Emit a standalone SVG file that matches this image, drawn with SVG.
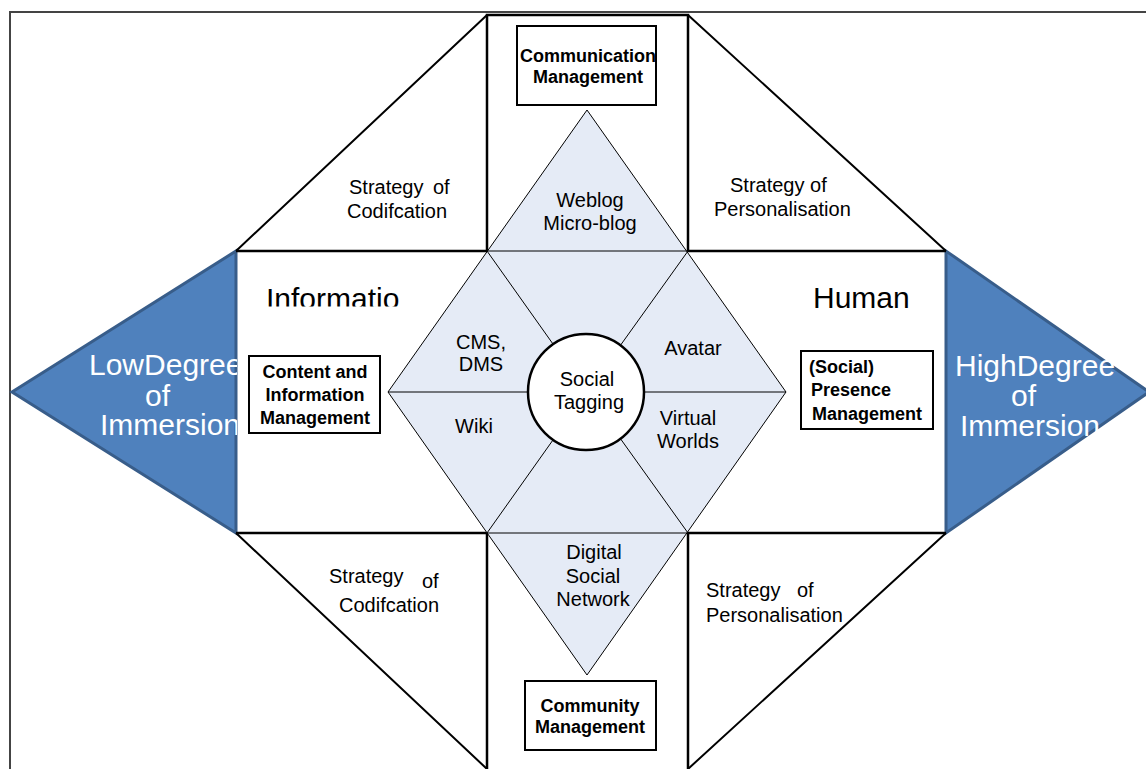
<svg xmlns="http://www.w3.org/2000/svg" width="1146" height="769" viewBox="0 0 1146 769">
<style>
.t{font-family:"Liberation Sans",Arial,sans-serif;font-size:20px;fill:#000}
.big{font-family:"Liberation Sans",Arial,sans-serif;font-size:30px;fill:#000}
.w{font-family:"Liberation Sans",Arial,sans-serif;font-size:30px;fill:#fff}
.b{font-family:"Liberation Sans",Arial,sans-serif;font-size:18px;font-weight:bold;fill:#000}
.c{text-anchor:middle}
.frame{stroke:#000;stroke-width:2.5;fill:none}
.diag{stroke:#000;stroke-width:2;fill:none}
.thin{stroke:#000;stroke-width:1;fill:none}
.box{fill:#fff;stroke:#000;stroke-width:2}
.arrow{fill:#4f81bd;stroke:#385d8a;stroke-width:3;stroke-linejoin:miter}
</style>
<defs>
<clipPath id="clipLow"><rect x="0" y="240" width="237" height="300"/></clipPath>
<clipPath id="clipInfo"><rect x="250" y="270" width="200" height="36.5"/></clipPath>
</defs>
<rect width="1146" height="769" fill="#fff"/>
<path d="M10,769 V12 H1146" fill="none" stroke="#444" stroke-width="2"/>

<g id="low-degree">
<polygon class="arrow" points="236,251 236,533 12,392"/>
<g clip-path="url(#clipLow)">
<text class="w" x="89" y="375">LowDegree</text>
<text class="w" x="145" y="406">of</text>
<text class="w" x="100" y="435">Immersion</text>
</g>
</g>

<g id="high-degree">
<polygon class="arrow" points="946,251 946,533 1149,392"/>
<text class="w" x="955" y="376">HighDegree</text>
<text class="w" x="1011" y="406">of</text>
<text class="w" x="960" y="436">Immersion</text>
</g>

<g id="connectors">
<path class="frame" d="M236,251 H487 M688,251 H946 M236,533 H487 M688,533 H946"/>
<path class="frame" d="M487,251 V15 H688 V251 M487,533 V769 M688,533 V769"/>
<path class="diag" d="M236,251 L487,15 M688,15 L946,251 M236,533 L487,769 M946,533 L688,769"/>
</g>

<g id="quadrants">
<text class="t" x="349" y="194">Strategy</text>
<text class="t" x="433" y="194">of</text>
<text class="t" x="347" y="218">Codifcation</text>
<text class="t" x="730" y="192">Strategy of</text>
<text class="t" x="714" y="216">Personalisation</text>
<text class="t" x="329" y="583">Strategy</text>
<text class="t" x="422" y="588">of</text>
<text class="t" x="339" y="612">Codifcation</text>
<text class="t" x="706" y="597">Strategy</text>
<text class="t" x="797" y="597">of</text>
<text class="t" x="706" y="622">Personalisation</text>
<g clip-path="url(#clipInfo)"><text class="big" x="266" y="309">Informatio</text></g>
<text class="big" x="813" y="308">Human</text>
</g>

<g id="diamond">
<polygon points="587,110 786,392 587,675 388,392" fill="#e5ebf6" stroke="#000" stroke-width="1"/>
<path class="thin" d="M487,251 H688 M487,533 H688 M487,251 L587,392 M688,251 L587,392 M388,392 H587 M786,392 H587 M487,533 L587,392 M688,533 L587,392"/>
<text class="t c" x="590" y="207">Weblog</text>
<text class="t c" x="590" y="230">Micro-blog</text>
<text class="t c" x="481" y="349">CMS,</text>
<text class="t c" x="481" y="371">DMS</text>
<text class="t c" x="693" y="355">Avatar</text>
<text class="t c" x="474" y="433">Wiki</text>
<text class="t c" x="688" y="425">Virtual</text>
<text class="t c" x="688" y="448">Worlds</text>
<text class="t c" x="594" y="559">Digital</text>
<text class="t c" x="593" y="583">Social</text>
<text class="t c" x="593" y="606">Network</text>
</g>

<g id="social-tagging">
<circle cx="586" cy="392" r="58" fill="#fff" stroke="#000" stroke-width="2.5"/>
<text class="t c" x="587" y="386">Social</text>
<text class="t c" x="589" y="409">Tagging</text>
</g>

<g id="communication-management">
<rect class="box" x="517" y="26" width="139" height="79"/>
<text class="b c" x="588" y="62">Communication</text>
<text class="b c" x="588" y="83">Management</text>
</g>

<g id="content-information-management">
<rect class="box" x="249" y="356" width="131" height="77"/>
<text class="b c" x="315" y="378">Content and</text>
<text class="b c" x="315" y="401">Information</text>
<text class="b c" x="315" y="424">Management</text>
</g>

<g id="presence-management">
<rect class="box" x="801" y="351" width="132" height="78"/>
<text class="b" x="809" y="373">(Social)</text>
<text class="b" x="811" y="396">Presence</text>
<text class="b" x="812" y="420">Management</text>
</g>

<g id="community-management">
<rect class="box" x="525" y="681" width="131" height="69"/>
<text class="b c" x="590" y="712">Community</text>
<text class="b c" x="590" y="733">Management</text>
</g>
</svg>
